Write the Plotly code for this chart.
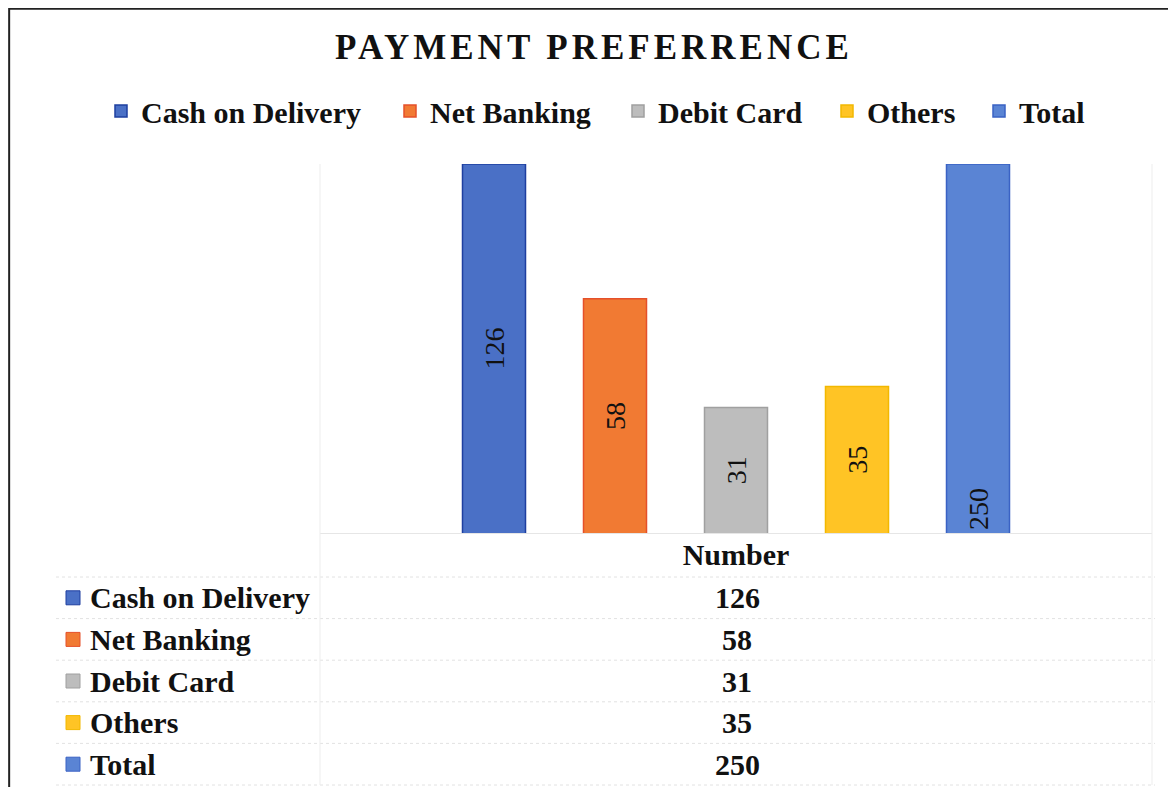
import plotly.graph_objects as go
import math

# ---- data ----
series_names = ["Cash on Delivery", "Net Banking", "Debit Card", "Others", "Total"]
series_values = [126, 58, 31, 35, 250]
category = ["Number"]
title_text = "PAYMENT PREFERRENCE"

# ---- styles ----
fill_colors = ["#4A70C6", "#F17A33", "#BDBDBD", "#FFC425", "#5A84D4"]
edge_colors = ["#1E3FA0", "#E5502A", "#A0A0A0", "#F2B800", "#3A62C4"]
secondary = [False, False, False, False, True]
label_anchor = ["middle", "middle", "middle", "middle", "start"]
legend_left_px = [114, 403, 631, 840, 992]   # left edge of each legend key

# page body has an 8px margin; figure sized to fit inside the viewport
OFF = 8
W, H = 1176 - 2 * OFF, 795 - 2 * OFF
FONT = "Liberation Serif, Times New Roman, serif"


def px_x(v):
    return (v - OFF) / W


def px_y(v):
    return 1 - (v - OFF) / H


plot_left, plot_right = 320, 1152
plot_top, plot_bottom = 164, 533
slot = 121 / (plot_right - plot_left)
bar_w = 63 / (plot_right - plot_left)

fig = go.Figure()
n = len(series_names)
legend_ids = ["legend"] + ["legend%d" % (k + 1) for k in range(1, n)]
for i, (name, val) in enumerate(zip(series_names, series_values)):
    fig.add_trace(go.Bar(
        x=category, y=[val], name=name,
        marker=dict(color=fill_colors[i], line=dict(color=edge_colors[i], width=1.5)),
        width=bar_w, offset=(i - (n - 1) / 2) * slot - bar_w / 2,
        text=[str(val)], textposition="inside", textangle=-90,
        insidetextanchor=label_anchor[i],
        textfont=dict(family=FONT, size=28, color="#111111"),
        yaxis="y2" if secondary[i] else "y",
        legend=legend_ids[i],
        hoverinfo="name+y",
    ))

# bars are drawn on logarithmic axes, as in the reference
dec_px = 400.0
top_primary = math.log10(max(v for v, s in zip(series_values, secondary) if not s))
top_secondary = math.log10(max(v for v, s in zip(series_values, secondary) if s))
span = (plot_bottom - plot_top) / dec_px

legend_style = dict(orientation="h", xanchor="left", yanchor="middle", y=px_y(111),
                    font=dict(family=FONT, size=30, color="#111111", weight="bold"),
                    itemwidth=30, bgcolor="rgba(0,0,0,0)")
legend_layout = {}
for i, lid in enumerate(legend_ids):
    legend_layout[lid] = dict(legend_style, x=px_x(legend_left_px[i] - 13))

fig.update_layout(
    width=W, height=H,
    margin=dict(l=0, r=0, t=0, b=0),
    paper_bgcolor="white", plot_bgcolor="white",
    barmode="overlay",
    showlegend=True,
    title=dict(text="<b><span style='letter-spacing:4px'>" + title_text + "</span></b>",
               x=px_x(594), xanchor="center",
               y=px_y(47), yanchor="middle",
               font=dict(family=FONT, size=35, color="#111111")),
    xaxis=dict(domain=[px_x(plot_left), px_x(plot_right)], type="category",
               showgrid=False, zeroline=False, showline=True, linecolor="#E6E6E6",
               ticks="", ticklen=0, ticklabelstandoff=-5,
               tickfont=dict(family=FONT, size=30, color="#111111", weight="bold"),
               range=[-0.5, 0.5]),
    yaxis=dict(domain=[px_y(plot_bottom), px_y(plot_top)], type="log",
               range=[top_primary - span, top_primary],
               showgrid=False, zeroline=False, showticklabels=False, showline=False),
    yaxis2=dict(type="log", overlaying="y", side="right",
                range=[top_secondary - span, top_secondary],
                showgrid=False, zeroline=False, showticklabels=False, showline=False),
    **legend_layout,
)

shapes = []
annotations = []
grid_col = "#E2E2E2"
# data table below the chart
row_h = 41.6
row0 = 577
table_left, table_right = 56, 1155
for i in range(n + 1):
    yy = row0 + i * row_h
    shapes.append(dict(type="line", xref="paper", yref="paper",
                       x0=px_x(table_left), x1=px_x(table_right), y0=px_y(yy), y1=px_y(yy),
                       line=dict(color=grid_col, width=1, dash="dot")))
for xx in (plot_left, plot_right):
    shapes.append(dict(type="line", xref="paper", yref="paper",
                       x0=px_x(xx), x1=px_x(xx), y0=px_y(plot_top), y1=px_y(row0 + n * row_h),
                       line=dict(color="#EDEDED", width=1)))
for i, (name, val) in enumerate(zip(series_names, series_values)):
    yc = row0 + (i + 0.5) * row_h
    shapes.append(dict(type="rect", xref="paper", yref="paper",
                       x0=px_x(66), x1=px_x(80), y0=px_y(yc + 7), y1=px_y(yc - 7),
                       fillcolor=fill_colors[i], line=dict(color=edge_colors[i], width=1)))
    annotations.append(dict(xref="paper", yref="paper", x=px_x(88), y=px_y(yc),
                            xanchor="left", yanchor="middle", showarrow=False,
                            text="<b>" + name + "</b>",
                            font=dict(family=FONT, size=30, color="#111111")))
    annotations.append(dict(xref="paper", yref="paper", x=px_x(737), y=px_y(yc),
                            xanchor="center", yanchor="middle", showarrow=False,
                            text="<b>" + str(val) + "</b>",
                            font=dict(family=FONT, size=30, color="#111111")))

# chart border
shapes.append(dict(type="rect", xref="paper", yref="paper",
                   x0=0.001, x1=1.05, y0=-0.05, y1=0.999,
                   line=dict(color="#222222", width=2), fillcolor="rgba(0,0,0,0)"))

fig.update_layout(shapes=shapes, annotations=annotations)
fig.write_html("out.html")
